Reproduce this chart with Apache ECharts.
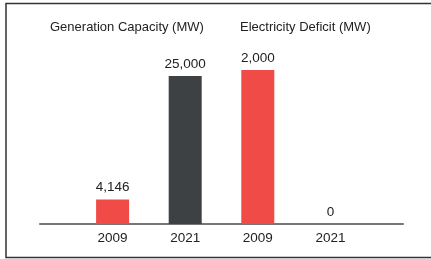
<!DOCTYPE html>
<html>
<head>
<meta charset="utf-8">
<script src="https://cdn.jsdelivr.net/npm/echarts@6/dist/echarts.min.js"></script>
<style>
html, body { margin: 0; padding: 0; background: #fff; }
#chart { width: 431px; height: 259px; }
</style>
</head>
<body>
<div id="chart"></div>
<script>
// padded with empty slots so bars sit on the ticks
const categories = ["", "2009", "2021", "2009", "2021", ""];
const capacity = [null, 4146, 25000, null, null, null];
const deficit = [null, null, null, 2000, 0, null];
const capacityColors = [null, "#f04b46", "#3d4144", null, null, null];
const titles = ["Generation Capacity (MW)", "Electricity Deficit (MW)"];

const font = "'Liberation Sans', Arial, sans-serif";
const red = "#f04b46";

const chart = echarts.init(document.getElementById("chart"));

const valueLabel = {
  show: true,
  position: "top",
  distance: 5,
  fontFamily: font,
  fontSize: 13.5,
  color: "#222",
  formatter: (p) => p.value.toLocaleString("en-US"),
};

const option = {
  animation: false,
  graphic: [
    {
      type: "rect",
      shape: { x: 6, y: 3.5, width: 440, height: 254 },
      style: { fill: "none", stroke: "#333", lineWidth: 1.5 },
    },
  ],
  title: [
    {
      text: titles[0],
      left: 50,
      top: 21,
      padding: 0,
      textStyle: { fontFamily: font, fontSize: 13, fontWeight: "normal", color: "#222" },
    },
    {
      text: titles[1],
      left: 240,
      top: 21,
      padding: 0,
      textStyle: { fontFamily: font, fontSize: 13, fontWeight: "normal", color: "#222" },
    },
  ],
  grid: { left: 40, right: 28, top: 40, bottom: 35 },
  xAxis: {
    type: "category",
    data: categories,
    boundaryGap: false,
    axisTick: { show: false },
    axisLine: { lineStyle: { color: "#777", width: 2 } },
    axisLabel: { fontFamily: font, fontSize: 13.5, color: "#222", margin: 7 },
  },
  yAxis: [
    { type: "value", min: 0, max: 25000 * 184 / 148, show: false, splitLine: { show: false } },
    { type: "value", min: 0, max: 2000 * 184 / 154, show: false, splitLine: { show: false } },
  ],
  series: [
    {
      name: titles[0],
      type: "bar",
      yAxisIndex: 0,
      barWidth: 33,
      barGap: "-100%",
      data: capacity.map((v, i) =>
        v === null ? null : { value: v, itemStyle: { color: capacityColors[i] } }
      ),
      label: valueLabel,
    },
    {
      name: titles[1],
      type: "bar",
      yAxisIndex: 1,
      barWidth: 33,
      barGap: "-100%",
      itemStyle: { color: red },
      data: deficit,
      label: valueLabel,
    },
  ],
};

chart.setOption(option);
</script>
</body>
</html>
